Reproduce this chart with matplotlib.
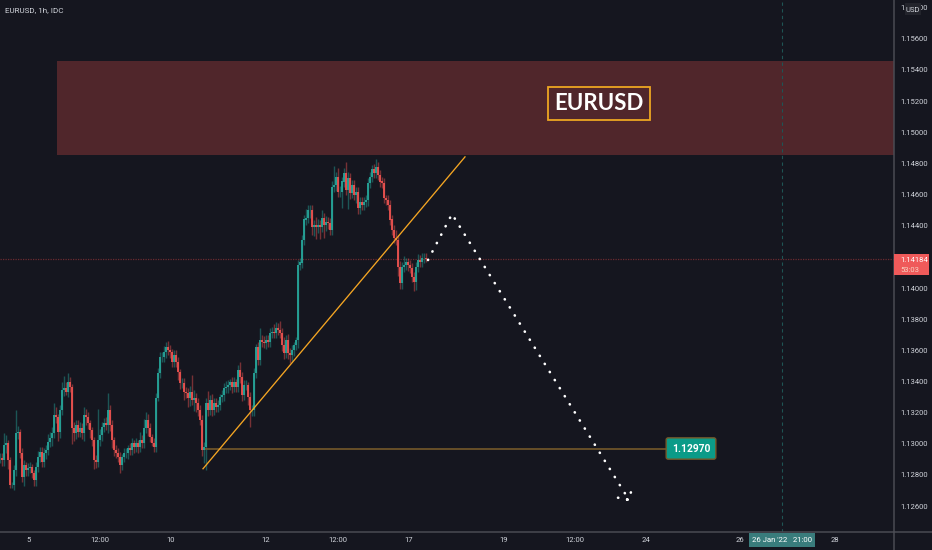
import matplotlib
matplotlib.use("Agg")
import matplotlib.pyplot as plt
from matplotlib.patches import Rectangle

closes = [
    1.12909, 1.12896, 1.12992, 1.13005, 1.12896, 1.12735, 1.12735, 1.12832, 1.13069, 1.13076,
    1.12941, 1.12787, 1.12864, 1.12832, 1.12844, 1.12851, 1.12812, 1.12767, 1.12851, 1.12915,
    1.12947, 1.12883, 1.12941, 1.12960, 1.13011, 1.13037, 1.13069, 1.13185, 1.13172, 1.13076,
    1.13217, 1.13345, 1.13358, 1.13332, 1.13397, 1.13364, 1.13101, 1.13069, 1.13120, 1.13076,
    1.13101, 1.13069, 1.13185, 1.13172, 1.13133, 1.13088, 1.13024, 1.12896, 1.12883, 1.13024,
    1.13056, 1.13108, 1.13133, 1.13120, 1.13217, 1.13120,
    1.13024, 1.12960, 1.12941, 1.12915, 1.12864, 1.12915, 1.12941, 1.12941, 1.12973, 1.12960,
    1.13005, 1.12979, 1.13005, 1.12979, 1.13024, 1.13005, 1.13101, 1.13153, 1.13101, 1.13043,
    1.13005, 1.12979, 1.13294, 1.13454, 1.13557, 1.13557, 1.13589, 1.13621, 1.13602, 1.13589,
    1.13525, 1.13570, 1.13525, 1.13461, 1.13390, 1.13390, 1.13332, 1.13326, 1.13294, 1.13332,
    1.13281, 1.13294, 1.13262, 1.13217, 1.13153, 1.12960, 1.12979, 1.13262, 1.13217, 1.13281,
    1.13217, 1.13262,
    1.13236, 1.13249, 1.13300, 1.13313, 1.13358, 1.13364, 1.13377, 1.13397, 1.13364, 1.13397,
    1.13364, 1.13474, 1.13429, 1.13313, 1.13377, 1.13377, 1.13300, 1.13217, 1.13217, 1.13454,
    1.13621, 1.13538, 1.13666, 1.13653, 1.13647, 1.13666, 1.13653, 1.13711, 1.13718, 1.13711,
    1.13743, 1.13730, 1.13711, 1.13634, 1.13583, 1.13666, 1.13583, 1.13570, 1.13602, 1.13634,
    1.13666,
    1.14148, 1.14161, 1.14308, 1.14437, 1.14449, 1.14501, 1.14501, 1.14392, 1.14404, 1.14392,
    1.14404, 1.14392, 1.14449, 1.14404, 1.14424, 1.14417, 1.14372, 1.14648, 1.14661, 1.14713,
    1.14616, 1.14616, 1.14681, 1.14738, 1.14629, 1.14706, 1.14610, 1.14661, 1.14597, 1.14616,
    1.14514, 1.14552, 1.14533, 1.14552, 1.14565, 1.14674, 1.14713, 1.14758, 1.14738, 1.14777,
    1.14725, 1.14681, 1.14674, 1.14578, 1.14565, 1.14533, 1.14437, 1.14372, 1.14321, 1.14308,
    1.14135, 1.14032, 1.14135, 1.14148, 1.14161, 1.14148, 1.14128, 1.14071, 1.14039, 1.14135,
    1.14180, 1.14167, 1.14193, 1.14193, 1.14184,
]
# wick lengths above / below the body, in pips
upper_wick = [
    3, 3, 8, 5, 2, 2, 2, 3, 15, 4, 2, 3, 3, 2, 3, 3, 2, 2, 3, 4, 3, 3, 3, 3, 5, 4, 4, 8, 5, 2,
    3, 5, 8, 4, 6, 3, 2, 4, 3, 3, 4, 3, 5, 4, 3, 2, 2, 2, 3, 20, 4, 3, 3, 4, 11, 3,
    3, 2, 3, 3, 3, 2, 3, 3, 2, 3, 3, 2, 3, 2, 5, 3, 6, 5, 4, 3, 2, 3, 3, 3, 3, 3, 4, 3, 4, 3,
    2, 3, 3, 3, 2, 3, 3, 3, 3, 4, 11, 5, 3, 3, 3, 3, 3, 3, 8, 3, 4, 3,
    3, 3, 2, 3, 3, 4, 3, 2, 3, 3, 2, 3, 5, 3, 3, 3, 2, 3, 3, 3, 2, 3, 8, 3, 4, 3, 3, 3, 3, 5,
    4, 3, 6, 3, 5, 3, 4, 3, 3, 2, 2,
    3, 3, 3, 3, 6, 3, 3, 3, 3, 5, 4, 3, 5, 3, 4, 3, 3, 4, 12, 3, 6, 4, 3, 3, 7, 4, 3, 3, 3, 3,
    3, 3, 3, 3, 3, 3, 3, 3, 4, 5, 3, 3, 3, 3, 2, 3, 3, 3, 3, 5, 3, 4, 3, 6, 3, 3, 3, 3, 3, 3,
    4, 3, 3, 3, 3,
]
lower_wick = [
    3, 4, 4, 5, 6, 2, 2, 3, 4, 4, 3, 3, 6, 4, 4, 3, 3, 4, 4, 3, 3, 3, 3, 4, 3, 3, 5, 3, 4, 6,
    4, 3, 4, 2, 3, 3, 10, 5, 4, 3, 3, 4, 5, 5, 4, 5, 4, 6, 4, 3, 4, 4, 3, 3, 5, 4,
    5, 4, 3, 3, 5, 3, 3, 3, 4, 3, 3, 4, 3, 4, 3, 3, 3, 3, 5, 3, 2, 3, 3, 2, 3, 3, 3, 4, 3, 4,
    3, 3, 3, 5, 4, 3, 5, 3, 6, 5, 3, 7, 6, 4, 3, 4, 8, 15, 4, 3, 4, 3,
    3, 3, 3, 3, 4, 3, 4, 3, 4, 3, 3, 3, 4, 4, 3, 3, 5, 11, 4, 4, 3, 3, 3, 3, 3, 4, 3, 3, 3, 3,
    3, 3, 3, 4, 4, 3, 4, 5, 4, 4, 3,
    5, 3, 3, 3, 3, 3, 5, 5, 6, 8, 4, 8, 3, 8, 4, 4, 3, 3, 3, 4, 3, 3, 10, 3, 3, 12, 4, 3, 3, 5,
    4, 4, 3, 3, 3, 4, 3, 3, 3, 3, 3, 3, 3, 3, 3, 3, 3, 3, 3, 3, 6, 4, 4, 3, 3, 4, 3, 3, 6, 5,
    3, 3, 3, 3, 2,
]

# 1.14200 sits under the last price tag, so it is not labelled
y_ticks = [1.126, 1.128, 1.130, 1.132, 1.134, 1.136, 1.138, 1.140, 1.144, 1.146, 1.148,
           1.150, 1.152, 1.154, 1.156, 1.158]
x_tick_bars = [14.5, 50, 85.5, 133, 169, 204.5, 252, 287.5, 323, 370, 417.5]
x_tick_labels = ["5", "12:00", "10", "12", "12:00", "17", "19", "12:00", "24", "26", "28"]

last_price = 1.14184
zone_bars = [28.5, 447]
zone_prices = [1.14854, 1.15457]
trend_bars = [101.5, 232.5]
trend_prices = [1.12840, 1.14842]
target_bars = [101.5, 334]
target_price = 1.12970
path_bars = [214, 226, 314.5, 309, 314.5, 316]
path_prices = [1.14180, 1.14475, 1.12640, 1.12654, 1.12640, 1.12717]
crosshair_bar = 391

bg = "#15161f"
teal = "#26a69a"
red = "#ef5350"
gold = "#f5a623"
text_col = "#d0d3da"

plt.rcParams["font.family"] = "Roboto"

fig = plt.figure(figsize=(9.32, 5.5), dpi=100, facecolor=bg)
ax = fig.add_axes([0, 18 / 550, 894 / 932, 532 / 550], facecolor=bg)
ax.set_xlim(0, 447)
ax.set_ylim(1.12434, 1.15849)

# resistance zone
ax.add_patch(Rectangle((zone_bars[0], zone_prices[0]), zone_bars[1] - zone_bars[0],
                       zone_prices[1] - zone_prices[0], fc="#50262b", ec="none", zorder=1))
ax.axhline(last_price, color="#6b2a30", lw=0.9, ls=(0, (1, 1)), zorder=1.5)
ax.axvline(crosshair_bar, color="#1f5454", lw=0.8, ls=(0, (3, 3)), zorder=1.5)

# candles, open = previous close
opens = [closes[0]] + closes[:-1]
for i, (o, c, up, lo) in enumerate(zip(opens, closes, upper_wick, lower_wick)):
    col = teal if c >= o else red
    ax.vlines(i, min(o, c) - lo * 0.0001, max(o, c) + up * 0.0001, color=col, lw=1.0, alpha=0.45, zorder=2)
    ax.vlines(i, min(o, c), max(o, c) + 0.00003, color=col, lw=1.3, zorder=3)

# drawings
ax.plot(trend_bars, trend_prices, color=gold, lw=0.95, zorder=4)
ax.plot(target_bars, [target_price, target_price], color="#75592a", lw=1.2, zorder=2.5)
ax.plot(path_bars, path_prices, color="white", lw=1.9, ls=(0, (0.1, 3.5)),
        dash_capstyle="round", zorder=5)
ax.text(345.5, target_price, "1.12970", color="white", fontsize=7.4, fontweight="bold", ha="center", va="center",
        zorder=6, bbox=dict(boxstyle="round,pad=0.55,rounding_size=0.2", fc="#0b9b88", ec="#75592a", lw=1))
ax.text(299.5, 1.15182, "EURUSD", color="white", fontsize=16, fontweight="bold", ha="center", va="center",
        family="Lato", zorder=6, bbox=dict(boxstyle="square,pad=0.27", fc="#50262b", ec="#eda622", lw=1.3))

ax.spines[["top", "left"]].set_visible(False)
ax.spines[["right", "bottom"]].set_color("#4a4b53")
ax.spines[["right", "bottom"]].set_linewidth(1.1)

ax.yaxis.tick_right()
ax.set_yticks(y_ticks)
ax.set_yticklabels(["%.5f" % v for v in y_ticks])
ax.set_xticks(x_tick_bars)
ax.set_xticklabels(x_tick_labels)
ax.tick_params(axis="both", length=0, labelsize=5.5, labelcolor=text_col)
ax.tick_params(axis="y", pad=4.4)
ax.tick_params(axis="x", pad=3.8)

# right axis continues through the time strip, bottom line through the price strip
fig.add_artist(plt.Line2D([894 / 932, 894 / 932], [0, 18 / 550], color="#4a4b53", lw=1.1))
fig.add_artist(plt.Line2D([894 / 932, 1], [18 / 550, 18 / 550], color="#4a4b53", lw=1.1))

# price axis tags
fig.patches.append(Rectangle((894 / 932, 1 - 275 / 550), 35 / 932, 21 / 550, transform=fig.transFigure,
                             fc="#ef5a5a", ec="none", zorder=5))
fig.text(900 / 932, 1 - 260 / 550, "1.14184", color="white", fontsize=5.5, va="center", zorder=6)
fig.text(900 / 932, 1 - 269.5 / 550, "53:03", color="#f7d4c4", fontsize=5.5, va="center", zorder=6)
fig.patches.append(Rectangle((905 / 932, 1 - 15 / 550), 16 / 932, 12 / 550, transform=fig.transFigure,
                             fc="#23242c", ec="none", zorder=5))
fig.text(913 / 932, 1 - 9.5 / 550, "USD", color=text_col, fontsize=5.5, ha="center", va="center", zorder=6)

# crosshair date tag
fig.patches.append(Rectangle((749 / 932, 1 - 547 / 550), 66 / 932, 14 / 550, transform=fig.transFigure,
                             fc="#397c7c", ec="none", zorder=5))
fig.text(782 / 932, 1 - 540.5 / 550, "26 Jan '22   21:00", color="white", fontsize=5.6,
         ha="center", va="center", zorder=6)

fig.text(5 / 932, 1 - 10.5 / 550, "EURUSD, 1h, IDC", color=text_col, fontsize=5.9, va="center")

fig.savefig("out.png", dpi=100, facecolor=bg)
